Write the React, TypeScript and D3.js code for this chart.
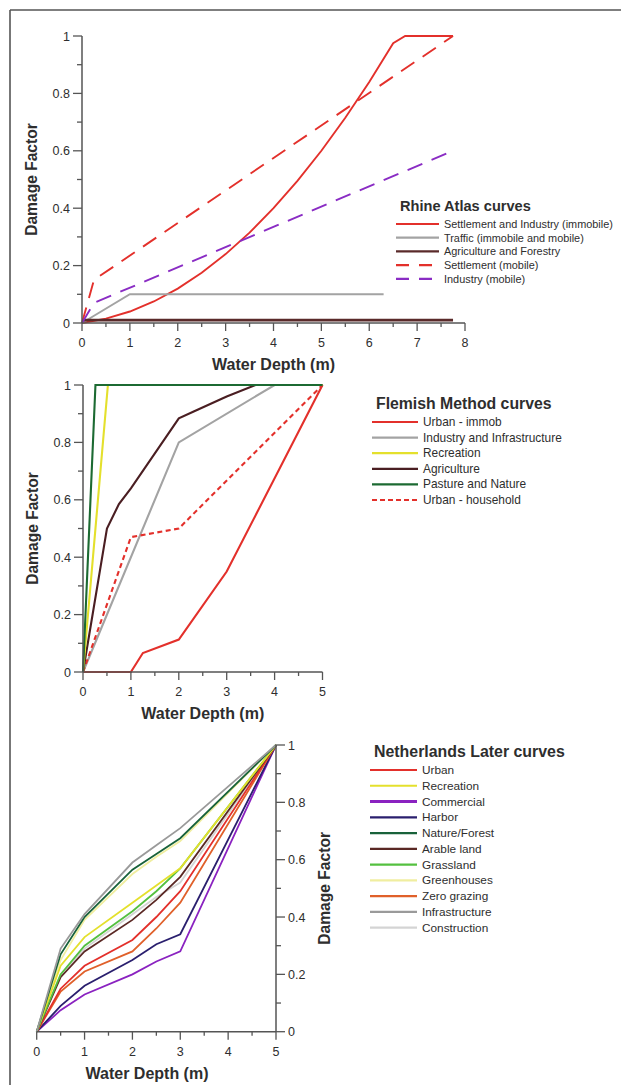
import React from "react";
import * as d3 from "d3";

type Pt = [number, number];

// ---------- Rhine Atlas ----------
const rhineNames = [
  "Settlement and Industry (immobile)",
  "Traffic (immobile and mobile)",
  "Agriculture and Forestry",
  "Settlement (mobile)",
  "Industry (mobile)",
];
const rhineColors = ["#e3302b", "#a3a3a3", "#5a2a2a", "#e3302b", "#8a2cc4"];
const rhineDashed = [false, false, false, true, true];
const rhineSettlementIndustry: Pt[] = [
  [0, 0], [0.5, 0.015], [1, 0.04], [1.5, 0.075], [2, 0.12], [2.5, 0.175], [3, 0.24],
  [3.5, 0.315], [4, 0.4], [4.5, 0.495], [5, 0.6], [5.5, 0.715], [6, 0.84], [6.5, 0.975],
  [6.75, 1], [7.75, 1],
];
const rhineTraffic: Pt[] = [[0, 0], [1, 0.1], [6.3, 0.1]];
const rhineAgriculture: Pt[] = [[0, 0.01], [7.75, 0.01]];
const rhineSettlementMobile: Pt[] = [[0, 0], [0.25, 0.15], [7.75, 1]];
const rhineIndustryMobile: Pt[] = [[0, 0], [0.25, 0.07], [7.75, 0.6]];
const rhineSeries = [rhineSettlementIndustry, rhineTraffic, rhineAgriculture, rhineSettlementMobile, rhineIndustryMobile];
const rhineXTicks = [0, 1, 2, 3, 4, 5, 6, 7, 8];

// ---------- Flemish ----------
const flemishNames = [
  "Urban - immob",
  "Industry and Infrastructure",
  "Recreation",
  "Agriculture",
  "Pasture and Nature",
  "Urban - household",
];
const flemishColors = ["#e3302b", "#a3a3a3", "#e4e02c", "#4a1e22", "#1c6a32", "#e3302b"];
const flemishDashed = [false, false, false, false, false, true];
const flemishUrbanImmob: Pt[] = [[0, 0], [1, 0], [1.25, 0.066], [2, 0.113], [3, 0.35], [5, 1]];
const flemishIndustry: Pt[] = [[0, 0], [2, 0.8], [4, 1], [5, 1]];
const flemishRecreation: Pt[] = [[0, 0], [0.52, 1], [5, 1]];
const flemishAgriculture: Pt[] = [
  [0, 0], [0.5, 0.5], [0.75, 0.585], [1, 0.64], [2, 0.884], [2.3, 0.907], [3, 0.96], [3.6, 1], [5, 1],
];
const flemishPasture: Pt[] = [[0, 0], [0.26, 1], [5, 1]];
const flemishUrbanHousehold: Pt[] = [[0, 0], [1, 0.47], [2, 0.5], [5, 1]];
const flemishSeries = [flemishUrbanImmob, flemishIndustry, flemishRecreation, flemishAgriculture, flemishPasture, flemishUrbanHousehold];
const flemishDrawOrder = [0, 1, 5, 3, 2, 4];
const flemishXTicks = [0, 1, 2, 3, 4, 5];

// ---------- Netherlands Later ----------
const nlNames = [
  "Urban", "Recreation", "Commercial", "Harbor", "Nature/Forest", "Arable land",
  "Grassland", "Greenhouses", "Zero grazing", "Infrastructure", "Construction",
];
const nlColors = [
  "#e3302b", "#e4e02c", "#8a22c0", "#2a1f6e", "#18623a", "#5a2824",
  "#54c040", "#f0eea0", "#e0602a", "#9a9a9a", "#d4d4d4",
];
const nlDepths = [0, 0.5, 1, 2, 2.5, 3, 5];
const nlUrban = [0, 0.15, 0.23, 0.32, 0.4, 0.49, 1];
const nlRecreation = [0, 0.23, 0.33, 0.45, 0.51, 0.57, 1];
const nlCommercial = [0, 0.075, 0.13, 0.2, 0.245, 0.28, 1];
const nlHarbor = [0, 0.09, 0.16, 0.25, 0.305, 0.34, 1];
const nlNature = [0, 0.27, 0.4, 0.565, 0.62, 0.675, 1];
const nlArable = [0, 0.19, 0.28, 0.39, 0.46, 0.54, 1];
const nlGrassland = [0, 0.2, 0.3, 0.42, 0.49, 0.57, 1];
const nlGreenhouses = [0, 0.25, 0.39, 0.55, 0.61, 0.665, 1];
const nlZeroGrazing = [0, 0.14, 0.21, 0.28, 0.36, 0.45, 1];
const nlInfrastructure = [0, 0.29, 0.41, 0.59, 0.65, 0.71, 1];
const nlConstruction = [0, 0.2, 0.29, 0.41, 0.47, 0.52, 1];
const nlSeries = [
  nlUrban, nlRecreation, nlCommercial, nlHarbor, nlNature, nlArable,
  nlGrassland, nlGreenhouses, nlZeroGrazing, nlInfrastructure, nlConstruction,
];
const nlDrawOrder = [10, 7, 2, 3, 8, 0, 5, 6, 1, 4, 9];
const nlXTicks = [0, 1, 2, 3, 4, 5];

const yMajor = [0, 0.2, 0.4, 0.6, 0.8, 1];
const yMinor = [0.1, 0.3, 0.5, 0.7, 0.9];

const FONT = "'Liberation Sans', Arial, Helvetica, sans-serif";
const TXT = "#2e2e2e";
const AX = "#555";

function XAxis({ x, y0, ticks, title, titleX }: { x: d3.ScaleLinear<number, number>; y0: number; ticks: number[]; title: string; titleX?: number }) {
  const [d0, d1] = x.domain();
  const minors: number[] = [];
  for (let v = d0 + 0.5; v < d1; v += 1) minors.push(v);
  return (
    <g>
      <line x1={x(d0)} x2={x(d1)} y1={y0} y2={y0} stroke={AX} strokeWidth={1.5} />
      {ticks.map((t) => (
        <g key={"M" + t}>
          <line x1={x(t)} x2={x(t)} y1={y0} y2={y0 + 8} stroke={AX} strokeWidth={1.3} />
          <text x={x(t)} y={y0 + 24} textAnchor="middle" fontSize={12.5} fill={TXT} fontFamily={FONT}>{t}</text>
        </g>
      ))}
      {minors.map((t) => (
        <line key={"m" + t} x1={x(t)} x2={x(t)} y1={y0} y2={y0 + 4} stroke={AX} strokeWidth={1.3} />
      ))}
      <text x={titleX ?? (x(d0) + x(d1)) / 2} y={y0 + 47} textAnchor="middle" fontSize={16} fontWeight="bold" fill={TXT} fontFamily={FONT}>{title}</text>
    </g>
  );
}

function YAxis({ y, x0, right, labelX }: { y: d3.ScaleLinear<number, number>; x0: number; right?: boolean; labelX: number }) {
  const s = right ? 1 : -1;
  return (
    <g>
      <line x1={x0} x2={x0} y1={y(0)} y2={y(1)} stroke={AX} strokeWidth={1.5} />
      {yMajor.map((t) => (
        <g key={"M" + t}>
          <line x1={x0} x2={x0 + s * 9} y1={y(t)} y2={y(t)} stroke={AX} strokeWidth={1.3} />
          <text x={x0 + s * 12} y={y(t) + 4.5} textAnchor={right ? "start" : "end"} fontSize={12.5} fill={TXT} fontFamily={FONT}>{String(t)}</text>
        </g>
      ))}
      {yMinor.map((t) => (
        <line key={"m" + t} x1={x0} x2={x0 + s * 5} y1={y(t)} y2={y(t)} stroke={AX} strokeWidth={1.3} />
      ))}
      <text
        transform={`translate(${labelX},${(y(0) + y(1)) / 2}) rotate(-90)`}
        textAnchor="middle"
        fontSize={15.6}
        fontWeight="bold"
        fill={TXT}
        fontFamily={FONT}
      >
        Damage Factor
      </text>
    </g>
  );
}

function Legend({ x, y, title, names, colors, dashes, step, fontSize, titleSize, lineW, dashArr, widths }: {
  x: number; y: number; title: string; names: string[]; colors: string[]; dashes: boolean[];
  step: number; fontSize: number; titleSize: number; lineW: number; dashArr: string; widths?: number[];
}) {
  return (
    <g fontFamily={FONT}>
      <text x={x + 4} y={y} fontSize={titleSize} fontWeight="bold" fill={TXT}>{title}</text>
      {names.map((n, i) => {
        const yy = y + 13 + i * step;
        return (
          <g key={n}>
            <line x1={x} x2={x + lineW} y1={yy} y2={yy} stroke={colors[i]} strokeWidth={widths ? widths[i] : 2.2}
              strokeDasharray={dashes[i] ? dashArr : undefined} />
            <text x={x + lineW + 5} y={yy + 4} fontSize={fontSize} fill={TXT}>{n}</text>
          </g>
        );
      })}
    </g>
  );
}

export default function App() {
  const x1 = d3.scaleLinear().domain([0, 8]).range([82, 465]);
  const y1 = d3.scaleLinear().domain([0, 1]).range([323, 36]);
  const line1 = d3.line<Pt>().x((d) => x1(d[0])).y((d) => y1(d[1]));
  const x2 = d3.scaleLinear().domain([0, 5]).range([83, 322.5]);
  const y2 = d3.scaleLinear().domain([0, 1]).range([672, 385]);
  const line2 = d3.line<Pt>().x((d) => x2(d[0])).y((d) => y2(d[1]));
  const x3 = d3.scaleLinear().domain([0, 5]).range([36.7, 276]);
  const y3 = d3.scaleLinear().domain([0, 1]).range([1031.7, 745]);
  const line3 = d3.line<number>().x((_, i) => x3(nlDepths[i])).y((d) => y3(d));

  return (
    <svg width={621} height={1085} style={{ position: "absolute", left: 0, top: 0, background: "#fff" }}>
      <rect x={0} y={0} width={621} height={1085} fill="#fff" />
      <line x1={10} x2={621} y1={10} y2={10} stroke="#555" strokeWidth={1.6} />
      <line x1={10} x2={10} y1={10} y2={1085} stroke="#555" strokeWidth={1.6} />

      {rhineSeries.map((s, i) => (
        <path key={i} d={line1(s) || ""} fill="none" stroke={rhineColors[i]}
          strokeWidth={i === 2 ? 2.6 : 1.9}
          strokeDasharray={rhineDashed[i] ? "16,10" : undefined} />
      ))}
      <XAxis x={x1} y0={323} ticks={rhineXTicks} title="Water Depth (m)" />
      <YAxis y={y1} x0={82} labelX={37} />
      <Legend x={396} y={211} title="Rhine Atlas curves" names={rhineNames} colors={rhineColors}
        dashes={rhineDashed} step={13.7} fontSize={10.9} titleSize={14.6} lineW={43} dashArr="13,10" />

      {flemishDrawOrder.map((i) => (
        <path key={i} d={line2(flemishSeries[i]) || ""} fill="none" stroke={flemishColors[i]}
          strokeWidth={2.1}
          strokeDasharray={flemishDashed[i] ? "5,3.5" : undefined} />
      ))}
      <XAxis x={x2} y0={672} ticks={flemishXTicks} title="Water Depth (m)" />
      <YAxis y={y2} x0={83} labelX={38} />
      <Legend x={372} y={409} title="Flemish Method curves" names={flemishNames} colors={flemishColors}
        dashes={flemishDashed} step={15.6} fontSize={11.9} titleSize={15.8} lineW={46} dashArr="5,3" />

      {nlDrawOrder.map((i) => (
        <path key={i} d={line3(nlSeries[i]) || ""} fill="none" stroke={nlColors[i]} strokeWidth={1.8} />
      ))}
      <XAxis x={x3} y0={1031.7} ticks={nlXTicks} title="Water Depth (m)" titleX={147} />
      <YAxis y={y3} x0={276} right labelX={330} />
      <Legend x={370} y={757} title="Netherlands Later curves" names={nlNames} colors={nlColors}
        dashes={nlNames.map(() => false)} step={15.77} fontSize={11.8} titleSize={15.9} lineW={47} dashArr=""
        widths={nlNames.map((_, i) => (i === 2 ? 3 : 2.2))} />
    </svg>
  );
}
